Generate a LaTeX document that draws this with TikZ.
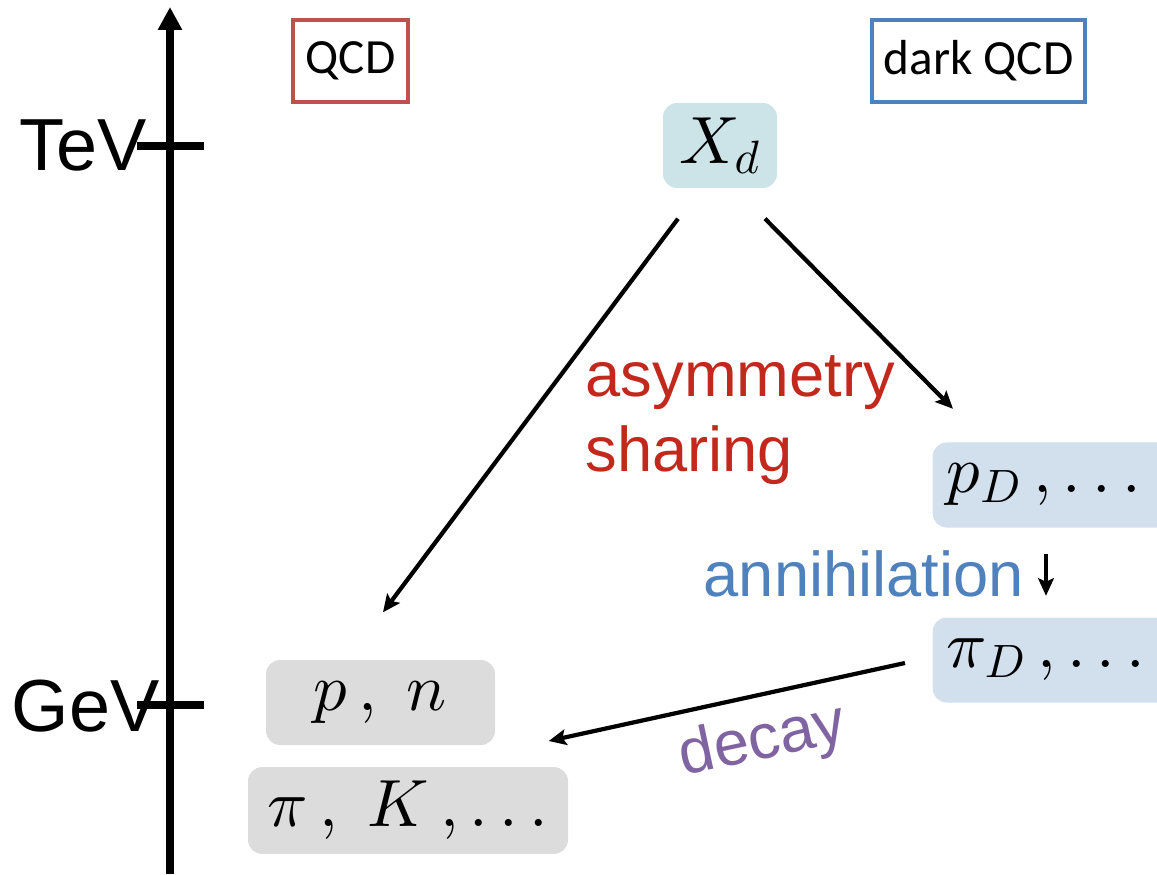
\documentclass[tikz,border=0pt]{standalone}
\usepackage{fontspec}
\setmainfont{Liberation Sans}
\newfontfamily\boxfont{Carlito}
\DeclareFontShape{OML}{cmm}{m}{it}{<->cmmi10}{}
\DeclareFontShape{OMS}{cmsy}{m}{n}{<->cmsy10}{}
\DeclareFontShape{OT1}{cmr}{m}{n}{<->cmr10}{}
\usepackage{tikz}
\usetikzlibrary{arrows.meta,positioning}
\definecolor{qcdred}{HTML}{C0504D}
\definecolor{darkblue}{HTML}{4F81BD}
\definecolor{xdfill}{HTML}{CCE3E7}
\definecolor{darkfill}{HTML}{D2DFEC}
\definecolor{smfill}{HTML}{DCDCDC}
\definecolor{sharered}{HTML}{C3281C}
\definecolor{decaypurple}{HTML}{8064A2}

\begin{document}
\begin{tikzpicture}[
  scalebox/.style={draw, line width=1.4pt, minimum height=0.82cm, inner sep=0pt, font=\boxfont\fontsize{14}{17}\selectfont},
  statebox/.style={rounded corners=4pt, minimum height=0.85cm, inner sep=4pt, font=\fontsize{19}{23}\selectfont},
  darkstate/.style={statebox, fill=darkfill, anchor=west, text width=2.2cm, align=left},
  flow/.style={-{Stealth[length=5pt,width=4.5pt,inset=1pt]}, line width=1.2pt},
  axislabel/.style={font=\fontsize{21}{25}\selectfont, inner sep=0pt, anchor=east},
  note/.style={font=\fontsize{18}{21.3}\selectfont, inner sep=0pt}
]
  \useasboundingbox (0,0) rectangle (11.57,8.74);

  % --- Energy axis ---
  \draw[line width=2pt, -{Triangle[length=6.5pt,width=6.5pt]}] (1.70,0) -- (1.70,8.67);
  \draw[line width=2pt] (1.37,7.28) -- (2.04,7.28);
  \draw[line width=2pt] (1.37,1.69) -- (2.04,1.69);
  \node[axislabel] (tev) at (1.47,7.285) {TeV};
  \node[axislabel] (gev) at (1.60,1.675) {GeV};

  % --- Sector headers ---
  \node[scalebox, draw=qcdred, minimum width=1.15cm] (qcd) at (3.505,8.13) {QCD};
  \node[scalebox, draw=darkblue, minimum width=2.13cm] (dqcd) at (9.785,8.13) {dark QCD};

  % --- States ---
  \node[statebox, fill=xdfill, minimum width=1.14cm] (xd) at (7.20,7.285) {$X_d$};
  \node[darkstate] (pD) at (9.32,3.89) {$p_D\,,\ldots$};
  \node[darkstate] (piD) at (9.32,2.14) {$\pi_D\,,\ldots$};
  \node[statebox, fill=smfill, minimum width=2.29cm] (pn) at (3.805,1.715) {$p\,,\ n$};
  \node[statebox, fill=smfill, minimum width=3.20cm] (piK) at (4.08,0.635) {$\pi\,,\ K\,,\ldots$};

  % --- Processes ---
  \draw[flow] ([shift={(-0.42,-0.30)}]xd.south) -- ([shift={(0.025,0.47)}]pn.north);
  \draw[flow] ([shift={(0.45,-0.30)}]xd.south) -- ([shift={(0.21,0.33)}]pD.north west);
  \draw[flow] ([shift={(1.14,-0.26)}]pD.south west) -- ([shift={(1.14,0.21)}]piD.north west);
  \draw[flow] ([shift={(-0.27,-0.03)}]piD.west) -- ([shift={(0.53,-0.385)}]pn.east);

  \node[note, text=sharered, align=left, anchor=north west] (share) at (5.85,5.19) {asymmetry\\sharing};
  \node[note, text=darkblue, anchor=base west] (ann) at (7.03,2.77) {annihilation};
  \node[note, text=decaypurple, rotate=12, anchor=base west] (dec) at (6.83,0.98) {decay};
\end{tikzpicture}
\end{document}
